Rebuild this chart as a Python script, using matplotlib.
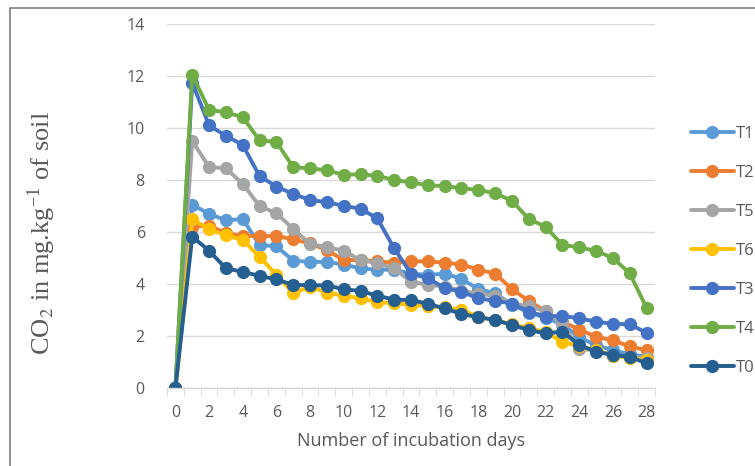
import numpy as np
import matplotlib
matplotlib.use('Agg')
from matplotlib import pyplot as plt
from matplotlib.patches import Rectangle

days = list(range(29))

T1 = [0, 7.05, 6.7, 6.45, 6.5, 5.5, 5.45, 4.9, 4.85, 4.85, 4.75, 4.6, 4.55, 4.55, 4.4,
      4.35, 4.4, 4.2, 3.8, 3.65, 3.2, 2.9, 2.7, 2.45, 1.95, 1.65, 1.45, 1.3, 1.2]
T2 = [0, 6.2, 6.25, 5.95, 5.85, 5.85, 5.85, 5.72, 5.56, 5.3, 4.92, 4.92, 4.87, 4.82, 4.87,
      4.87, 4.82, 4.75, 4.55, 4.4, 3.8, 3.35, 2.95, 2.55, 2.25, 1.97, 1.83, 1.6, 1.45]
T5 = [0, 9.5, 8.5, 8.45, 7.85, 7.0, 6.72, 6.12, 5.54, 5.42, 5.28, 4.92, 4.8, 4.6, 4.09,
      3.97, 3.9, 3.75, 3.62, 3.55, 3.25, 3.15, 2.95, 2.45, 1.5, 1.45, 1.25, 1.2, 1.15]
T6 = [0, 6.5, 6.1, 5.88, 5.69, 5.05, 4.35, 3.65, 3.9, 3.67, 3.55, 3.45, 3.3, 3.26, 3.2,
      3.15, 3.1, 3.0, 2.75, 2.6, 2.45, 2.3, 2.15, 1.78, 1.6, 1.45, 1.25, 1.15, 1.08]
T3 = [0, 11.75, 10.1, 9.7, 9.35, 8.15, 7.75, 7.46, 7.23, 7.15, 7.0, 6.9, 6.52, 5.37, 4.4,
      4.22, 3.85, 3.7, 3.45, 3.35, 3.25, 2.94, 2.75, 2.77, 2.68, 2.55, 2.47, 2.45, 2.12]
T4 = [0, 12.05, 10.7, 10.6, 10.42, 9.52, 9.47, 8.49, 8.45, 8.37, 8.2, 8.22, 8.16, 8.0, 7.91,
      7.79, 7.77, 7.68, 7.62, 7.49, 7.2, 6.5, 6.2, 5.5, 5.41, 5.27, 5.0, 4.41, 3.08]
T0 = [0, 5.82, 5.28, 4.6, 4.47, 4.31, 4.18, 3.96, 3.96, 3.94, 3.8, 3.73, 3.55, 3.4, 3.38,
      3.24, 3.06, 2.85, 2.72, 2.62, 2.42, 2.23, 2.1, 2.17, 1.65, 1.4, 1.27, 1.2, 0.95]

series = [("T1", T1, "#5B9BD5"), ("T2", T2, "#ED7D31"), ("T5", T5, "#A5A5A5"),
          ("T6", T6, "#FFC000"), ("T3", T3, "#4472C4"), ("T4", T4, "#70AD47"),
          ("T0", T0, "#255E91")]

fig = plt.figure(figsize=(7.55, 4.66), dpi=100)
ax = fig.add_axes([167/755, 1 - 388/466, (655-167)/755, (388-24)/466])

# outer frame like the pasted excel chart
fig.patches.append(Rectangle((10/755, -0.1), 1.2, 1 - 8/466 + 0.1, transform=fig.transFigure,
                             fill=False, edgecolor="#7f7f7f", linewidth=1.2))

for name, vals, col in series:
    ax.plot(days, vals, color=col, linewidth=2.8, marker='o', markersize=8.5,
            label=name, solid_capstyle='round')

ax.set_xlim(-0.5, 28.5)
ax.set_ylim(0, 14)
ax.set_yticks(np.arange(0, 15, 2))
ax.set_xticks(np.arange(0, 29, 2))
ax.set_xticks(np.arange(-0.5, 29, 1), minor=True)
ax.grid(axis='y', color='#d9d9d9', linewidth=1)
ax.set_axisbelow(True)
for s in ['left', 'right', 'top']:
    ax.spines[s].set_visible(False)
ax.spines['bottom'].set_color('#d9d9d9')
ax.spines['bottom'].set_linewidth(1)
ax.tick_params(axis='y', length=0, pad=16, labelsize=11.5, labelcolor='#595959')
ax.tick_params(axis='x', which='major', length=0, pad=12, labelsize=11.5, labelcolor='#595959')
ax.tick_params(axis='x', which='minor', length=6, color='#d9d9d9')
for lab in ax.get_xticklabels() + ax.get_yticklabels():
    lab.set_family('Open Sans')

ax.set_xlabel("Number of incubation days", fontsize=13, color='#595959',
              family='Open Sans', labelpad=8)
fig.text(42/755, 1 - 233/466, r"CO$_2$ in mg.kg$^{\mathregular{-1}}$ of soil",
         rotation=90, ha='center', va='center', fontsize=19, color='#595959',
         family='Liberation Serif', math_fontfamily='stix')

leg = fig.legend(loc='upper left', bbox_to_anchor=(684/755, 1 - 119/466), frameon=False,
                 fontsize=12, handlelength=2.6, labelspacing=1.38, handletextpad=0.1,
                 borderaxespad=0)
for t in leg.get_texts():
    t.set_color('#595959')
    t.set_family('Open Sans')

fig.savefig('out.png', dpi=100)
